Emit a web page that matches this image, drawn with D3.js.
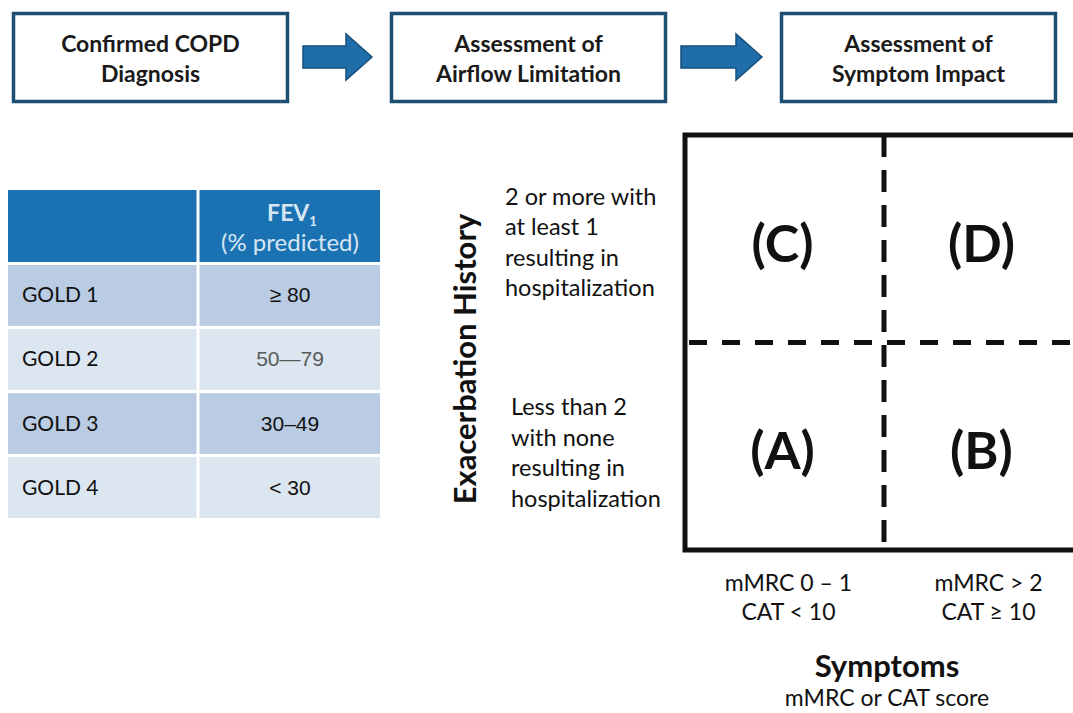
<!DOCTYPE html>
<html>
<head>
<meta charset="utf-8">
<script src="https://cdn.jsdelivr.net/npm/d3@7"></script>
<style>
  body { margin: 0; background: #fff; }
  svg { display: block; font-family: Lato, "Open Sans", sans-serif; }
</style>
</head>
<body>
<svg id="chart" width="1073" height="713"></svg>
<script>
// flow steps across the top
var steps = [["Confirmed COPD", "Diagnosis"], ["Assessment of", "Airflow Limitation"], ["Assessment of", "Symptom Impact"]];
var stepX = [12, 390, 780];

// spirometry table
var grades = ["GOLD 1", "GOLD 2", "GOLD 3", "GOLD 4"];
var fevRanges = ["≥ 80", "50—79", "30–49", "< 30"];

// ABCD grid
var symptomCols = ["low", "high"];
var exacRows = ["high", "low"];
var quadrants = [
  { col: "low", row: "high", label: "(C)" },
  { col: "high", row: "high", label: "(D)" },
  { col: "low", row: "low", label: "(A)" },
  { col: "high", row: "low", label: "(B)" }
];
var exacLabels = {
  high: ["2 or more with", "at least 1", "resulting in", "hospitalization"],
  low: ["Less than 2", "with none", "resulting in", "hospitalization"]
};
var symptomLabels = {
  low: ["mMRC 0 – 1", "CAT < 10"],
  high: ["mMRC > 2", "CAT ≥ 10"]
};

var svg = d3.select("#chart");

// ---- top boxes + arrows
var boxW = 274, boxH = 88, boxY = 12;
var steps_g = svg.selectAll("g.step").data(steps).enter().append("g")
  .attr("class", "step")
  .attr("transform", function (d, i) { return "translate(" + stepX[i] + "," + boxY + ")"; });

steps_g.append("rect")
  .attr("x", 1.5).attr("y", 1.5)
  .attr("width", boxW).attr("height", boxH)
  .attr("fill", "#fff")
  .attr("stroke", "#1d4f72")
  .attr("stroke-width", 3.5);

steps_g.selectAll("text").data(function (d) { return d; }).enter().append("text")
  .attr("x", boxW / 2 + 1.5)
  .attr("y", function (d, i) { return 40 + i * 30; })
  .attr("text-anchor", "middle")
  .attr("font-size", 23)
  .attr("font-weight", "bold")
  .attr("fill", "#1a1a1a")
  .text(function (d) { return d; });

// arrows between the boxes
for (var k = 0; k < steps.length - 1; k++) {
  var x0 = stepX[k] + boxW + 17;
  var x1 = stepX[k + 1] - 18;
  var cy = 57;
  var headX = x1 - 26;
  var pts = [[x0, cy - 11], [headX, cy - 11], [headX, cy - 23], [x1, cy], [headX, cy + 23], [headX, cy + 11], [x0, cy + 11]];
  svg.append("path")
    .attr("d", d3.line()(pts) + "Z")
    .attr("fill", "#1f6eaa")
    .attr("stroke", "#174f7b")
    .attr("stroke-width", 1.5);
}

// ---- table
var tx = 8, tw = 372, colSplit = 198;
var headerTop = 190, headerBot = 262;
var valX = (colSplit + tx + tw) / 2 + 1;
var rowY = d3.scaleBand().domain(grades).range([265, 518]).paddingInner(0.05);
var rowFill = ["#b9cce3", "#dbe6f1", "#b9cce3", "#dbe6f1"];

svg.append("rect")
  .attr("x", tx).attr("y", headerTop)
  .attr("width", tw).attr("height", headerBot - headerTop)
  .attr("fill", "#1b72b2");

svg.append("text")
  .attr("x", valX + 2)
  .attr("y", 221)
  .attr("text-anchor", "middle")
  .attr("font-size", 23)
  .attr("font-weight", "bold")
  .attr("fill", "#d7e6f3")
  .text("FEV")
  .append("tspan")
  .attr("font-size", 13)
  .attr("dy", 5)
  .text("1");

svg.append("text")
  .attr("x", valX)
  .attr("y", 251)
  .attr("text-anchor", "middle")
  .attr("font-size", 24)
  .attr("fill", "#d7e6f3")
  .text("(% predicted)");

var rows = svg.selectAll("g.row").data(grades).enter().append("g").attr("class", "row");

rows.append("rect")
  .attr("x", tx).attr("y", function (d) { return rowY(d); })
  .attr("width", tw).attr("height", rowY.bandwidth())
  .attr("fill", function (d, i) { return rowFill[i]; });

rows.append("text")
  .attr("x", 22)
  .attr("y", function (d) { return rowY(d) + rowY.bandwidth() / 2 + 7; })
  .attr("font-size", 21)
  .attr("fill", "#111")
  .text(function (d) { return d; });

rows.append("text")
  .attr("x", valX)
  .attr("y", function (d) { return rowY(d) + rowY.bandwidth() / 2 + 7; })
  .attr("text-anchor", "middle")
  .attr("font-family", "'Liberation Sans', Arial, sans-serif")
  .attr("font-size", 21)
  .attr("fill", function (d, i) { return i == 1 ? "#5a5a5a" : "#111"; })
  .text(function (d, i) { return fevRanges[i]; });

// white column divider
svg.append("line")
  .attr("x1", colSplit).attr("x2", colSplit)
  .attr("y1", headerTop).attr("y2", 518)
  .attr("stroke", "#fff").attr("stroke-width", 3);

// ---- ABCD grid
var gx = d3.scaleBand().domain(symptomCols).range([685, 1083]);
var gy = d3.scaleBand().domain(exacRows).range([135, 550]);
var midX = gx("high"), midY = gy("low");

svg.append("line")
  .attr("x1", midX).attr("x2", midX)
  .attr("y1", gy.range()[0]).attr("y2", gy.range()[1])
  .attr("stroke", "#111").attr("stroke-width", 5)
  .attr("stroke-dasharray", "22,13");

svg.append("line")
  .attr("x1", gx.range()[0] + 4).attr("x2", 1073)
  .attr("y1", midY).attr("y2", midY)
  .attr("stroke", "#111").attr("stroke-width", 5)
  .attr("stroke-dasharray", "18,15");

svg.append("path")
  .attr("d", "M1080," + gy.range()[0] + "H" + gx.range()[0] + "V" + gy.range()[1] + "H1080")
  .attr("fill", "none")
  .attr("stroke", "#111")
  .attr("stroke-width", 5);

svg.selectAll("text.quad").data(quadrants).enter().append("text")
  .attr("class", "quad")
  .attr("x", function (d) { return gx(d.col) + gx.bandwidth() / 2 - 2; })
  .attr("y", function (d) { return gy(d.row) + gy.bandwidth() / 2 + 23; })
  .attr("text-anchor", "middle")
  .attr("font-size", 52)
  .attr("font-weight", "bold")
  .attr("fill", "#111")
  .text(function (d) { return d.label; });

// row descriptions
exacRows.forEach(function (r, j) {
  var lines = exacLabels[r];
  svg.append("g").selectAll("text").data(lines).enter().append("text")
    .attr("x", j == 0 ? 505 : 511)
    .attr("y", function (d, i) { return gy(r) + gy.bandwidth() / 2 + (j == 0 ? -34 : -31) + i * 30.5; })
    .attr("font-size", 23.5)
    .attr("fill", "#111")
    .text(function (d) { return d; });
});

svg.append("text")
  .attr("transform", "translate(476,359) rotate(-90)")
  .attr("text-anchor", "middle")
  .attr("font-size", 31)
  .attr("font-weight", "bold")
  .attr("fill", "#111")
  .text("Exacerbation History");

// column descriptions
symptomCols.forEach(function (c) {
  svg.append("g").selectAll("text").data(symptomLabels[c]).enter().append("text")
    .attr("x", gx(c) + gx.bandwidth() / 2 + (c == "low" ? 4 : 5))
    .attr("y", function (d, i) { return 591 + i * 29; })
    .attr("text-anchor", "middle")
    .attr("font-size", 23)
    .attr("fill", "#111")
    .text(function (d) { return d; });
});

svg.append("text")
  .attr("x", 887).attr("y", 677)
  .attr("text-anchor", "middle")
  .attr("font-size", 31)
  .attr("font-weight", "bold")
  .attr("fill", "#111")
  .text("Symptoms");

svg.append("text")
  .attr("x", 887).attr("y", 706)
  .attr("text-anchor", "middle")
  .attr("font-size", 23)
  .attr("fill", "#111")
  .text("mMRC or CAT score");
</script>
</body>
</html>
